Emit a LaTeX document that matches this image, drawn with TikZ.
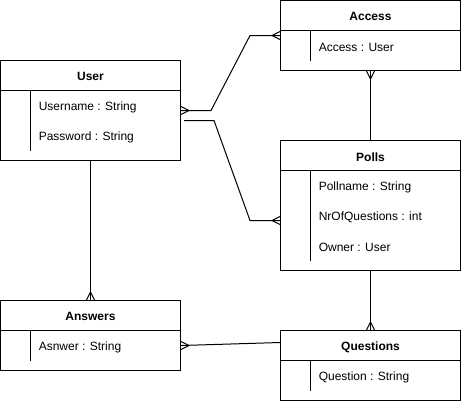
\documentclass[tikz,border=0pt]{standalone}
\usepackage{fontspec}
\setmainfont{Liberation Sans}
\usetikzlibrary{calc}
\tikzset{
  ent/.style={draw, line width=0.75pt, minimum width=135pt, inner sep=0pt, fill=white},
  ttl/.style={font=\fontsize{9}{11}\selectfont\bfseries, inner sep=0pt, yshift=-1pt},
  attr/.style={font=\fontsize{9}{11}\selectfont, anchor=west, inner sep=0pt, yshift=-1.2pt},
  ln/.style={line width=0.75pt},
}
\newcommand\crowfoot[5]{%
  \draw[ln] ($(#1)+(#2,#3)$) -- ($(#1)+(#4,#5)$) ($(#1)+(#2,#3)$) -- ($(#1)-(#4,#5)$);}
\begin{document}
\begin{tikzpicture}[x=0.75pt,y=-0.75pt]
\useasboundingbox (-0.5,-0.5) rectangle (460.5,400.5);
% entities
\node[ent, minimum height=75pt] (user) at (90,110) {};
\node[ent, minimum height=52.5pt] (access) at (370,35) {};
\node[ent, minimum height=97.5pt] (polls) at (370,205) {};
\node[ent, minimum height=52.5pt] (answers) at (90,335) {};
\node[ent, minimum height=52.5pt] (questions) at (370,365) {};
% header separators and inner lines
\draw[ln] (0,90) -- (180,90) (30,90) -- (30,150);
\draw[ln] (280,30) -- (460,30) (310,30) -- (310,60);
\draw[ln] (280,170) -- (460,170) (310,170) -- (310,260);
\draw[ln] (0,330) -- (180,330) (30,330) -- (30,360);
\draw[ln] (280,360) -- (460,360) (310,360) -- (310,390);
% titles
\node[ttl] (tuser) at (90,75) {User};
\node[ttl] (taccess) at (370,15) {Access};
\node[ttl] (tpolls) at (370,155) {Polls};
\node[ttl] (tanswers) at (90,315) {Answers};
\node[ttl] (tquestions) at (370,345) {Questions};
% attributes
\node[attr] (a1) at (38,105) {Username : String};
\node[attr] (a2) at (38,135) {Password : String};
\node[attr] (a3) at (318,45) {Access : User};
\node[attr] (a4) at (318,185) {Pollname : String};
\node[attr] (a5) at (318,215) {NrOfQuestions : int};
\node[attr] (a6) at (318,245) {Owner : User};
\node[attr] (a7) at (38,345) {Asnwer : String};
\node[attr] (a8) at (318,375) {Question : String};
% connector end points
\coordinate (u2) at ($(user.east)+(3,10)$);
\coordinate (p2) at ($(polls.west)+(0,15)$);
\coordinate (an2) at ($(answers.east)+(0,10)$);
\coordinate (q2) at ($(questions.west)+(0,-23)$);
% connectors
\draw[ln] (user.east) -- ($(user.east)+(30,0)$) -- ($(access.west)+(-30,0)$) -- (access.west);
\draw[ln] (u2) -- ($(u2)+(30,0)$) -- ($(p2)+(-30,0)$) -- (p2);
\draw[ln] (access.south) -- (polls.north);
\draw[ln] (user.south) -- (answers.north);
\draw[ln] (polls.south) -- (questions.north);
\draw[ln] (an2) -- (q2);
% crow's feet
\crowfoot{user.east}{8}{0}{0}{4}
\crowfoot{access.west}{-8}{0}{0}{4}
\crowfoot{p2}{-8}{0}{0}{4}
\crowfoot{access.south}{0}{8}{4}{0}
\crowfoot{answers.north}{0}{-8}{4}{0}
\crowfoot{questions.north}{0}{-8}{4}{0}
\crowfoot{an2}{8}{0}{0}{4}
\end{tikzpicture}
\end{document}
